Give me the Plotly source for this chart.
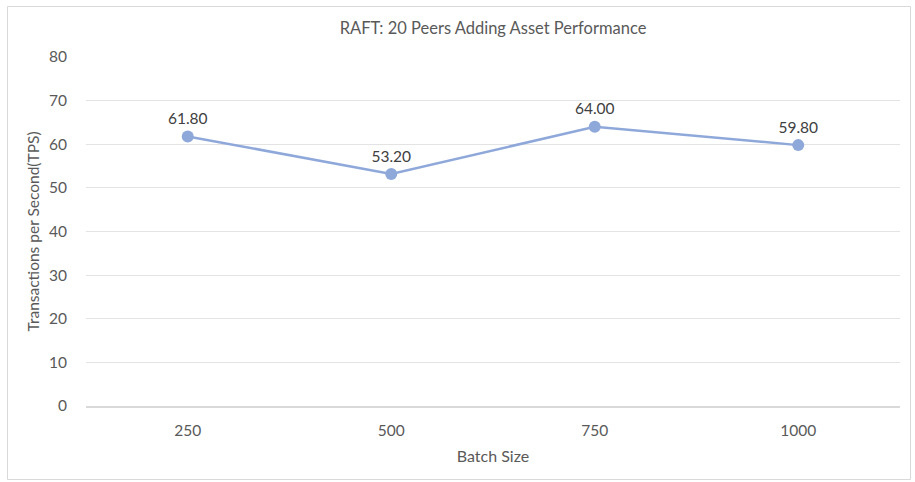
import plotly.graph_objects as go

batch_sizes = ["250", "500", "750", "1000"]
tps = [61.80, 53.20, 64.00, 59.80]
y_ticks = [0, 10, 20, 30, 40, 50, 60, 70, 80]

W, H = 915, 482
L, R, T, B = 86, 15, 57, 76
pw, ph = W - L - R, H - T - B

def px_to_paper_x(px):
    return (px - L) / pw

def px_to_paper_y(py):
    return (H - B - py) / ph

font_family = "Lato, 'Open Sans', sans-serif"
txt = "#595959"

fig = go.Figure()
fig.add_trace(go.Scatter(
    x=batch_sizes, y=tps,
    mode="lines+markers+text",
    line=dict(color="#8FA8DA", width=2.5),
    marker=dict(color="#8FA8DA", size=12),
    text=[f"{v:.2f}" for v in tps],
    textposition="top center",
    textfont=dict(family=font_family, size=15.5, color="#404040"),
    cliponaxis=False,
    showlegend=False,
    hoverinfo="skip",
))

fig.update_layout(
    width=W, height=H,
    margin=dict(l=L, r=R, t=T, b=B),
    paper_bgcolor="white", plot_bgcolor="white",
    font=dict(family=font_family, size=15, color=txt),
    title=dict(text="RAFT: 20 Peers Adding Asset Performance",
               x=0.5, xref="paper", xanchor="center",
               y=1 - 28 / H, yanchor="middle",
               font=dict(size=16.5, color=txt, family=font_family)),
    xaxis=dict(type="category", range=[-0.5, 3.5],
               showgrid=False, showline=True, linecolor="#D9D9D9", linewidth=2,
               ticks="", ticklabelstandoff=9, tickfont=dict(size=15.5, color=txt),
               title=dict(text="Batch Size", font=dict(size=16, color=txt), standoff=13),
               zeroline=False, fixedrange=True),
    yaxis=dict(range=[0, 80], tickvals=y_ticks, showgrid=True,
               gridcolor="#E3E3E3", gridwidth=1, zeroline=False, showline=False,
               ticks="", ticklabelstandoff=18, tickfont=dict(size=15.5, color=txt),
               title=dict(text="Transactions per Second(TPS)", font=dict(size=15.5, color=txt), standoff=5),
               fixedrange=True),
    shapes=[dict(type="rect", xref="paper", yref="paper",
                 x0=px_to_paper_x(7.5), x1=px_to_paper_x(910.5),
                 y0=px_to_paper_y(479.5), y1=px_to_paper_y(6.5),
                 line=dict(color="#D9D9D9", width=1), fillcolor="rgba(0,0,0,0)", layer="below")],
)

fig.write_html("out.html", config={"displayModeBar": False},
               post_script="document.body.style.margin='0';document.body.style.padding='0';")
